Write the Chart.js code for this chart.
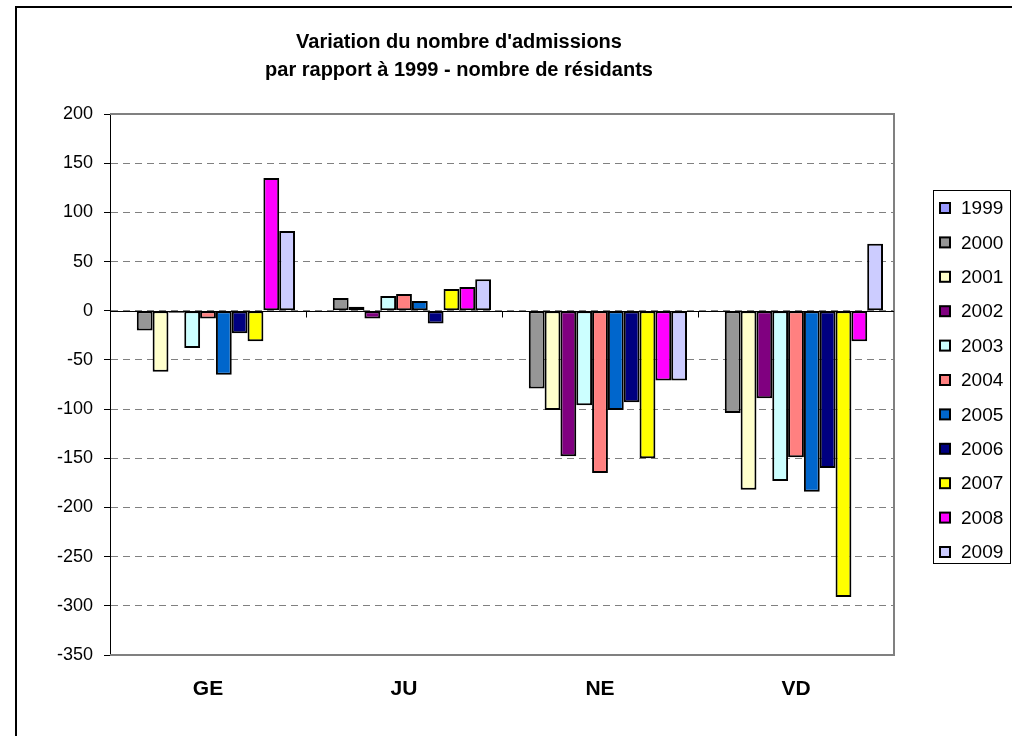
<!DOCTYPE html>
<html lang="fr">
<head>
    <meta charset="UTF-8">
    <title>Variation du nombre d'admissions</title>
    <script src="https://cdn.jsdelivr.net/npm/chart.js"></script>
    <style>
        body {
            margin: 0;
            background: #ffffff;
        }

        .chart-box {
            width: 1012px;
            height: 736px;
        }
    </style>
</head>
<body>
    <div class="chart-box">
        <canvas id="admChart"></canvas>
    </div>

    <script>
        // Data
        const regions = ['GE', 'JU', 'NE', 'VD'];
        const years = ['1999', '2000', '2001', '2002', '2003', '2004', '2005', '2006', '2007', '2008', '2009'];
        // one value per year, 1999 -> 2009
        const valuesGE = [0, -20, -62, -2, -38, -8, -65, -23, -31, 135, 81];
        const valuesJU = [0, 13, 4, -8, 15, 17, 10, -13, 22, 24, 32];
        const valuesNE = [0, -79, -101, -148, -96, -165, -101, -93, -150, -71, -71];
        const valuesVD = [0, -104, -182, -89, -173, -149, -184, -160, -291, -31, 68];
        const yTicks = [200, 150, 100, 50, 0, -50, -100, -150, -200, -250, -300, -350];

        const colors = ['#9999ff', '#969696', '#ffffcc', '#800080', '#ccffff', '#ff8080',
                        '#0066cc', '#000080', '#ffff00', '#ff00ff', '#ccccff'];
        const font = "'Liberation Sans', Arial, sans-serif";

        const byRegion = [valuesGE, valuesJU, valuesNE, valuesVD];
        const datasets = years.map((yr, i) => ({
            label: yr,
            data: byRegion.map(r => r[i]),
            backgroundColor: colors[i],
            borderColor: '#000000',
            borderWidth: 2,
            borderSkipped: false,
            categoryPercentage: 0.888,
            barPercentage: 1.0
        }));

        // frame, plot border, zero axis and legend box
        const excelLook = {
            id: 'excelLook',
            beforeDraw(chart) {
                const ctx = chart.ctx;
                ctx.save();
                ctx.strokeStyle = '#000000';
                ctx.lineWidth = 2;
                ctx.strokeRect(16, 7, 1100, 900);
                ctx.restore();
            },
            beforeDatasetsDraw(chart) {
                const {ctx, chartArea: a, scales: {x, y}} = chart;
                ctx.save();
                ctx.strokeStyle = '#808080';
                ctx.lineWidth = 2;
                ctx.beginPath();
                ctx.moveTo(a.left, a.top);
                ctx.lineTo(a.right, a.top);
                ctx.lineTo(a.right, a.bottom);
                ctx.lineTo(a.left, a.bottom);
                ctx.stroke();

                const y0 = Math.round(y.getPixelForValue(0)) + 0.5;
                ctx.strokeStyle = '#000000';
                ctx.lineWidth = 1;
                ctx.beginPath();
                ctx.moveTo(a.left, y0);
                ctx.lineTo(a.right, y0);
                const step = (x.right - x.left) / regions.length;
                for (let i = 1; i < regions.length; i++) {
                    const px = Math.round(x.left + i * step) + 0.5;
                    ctx.moveTo(px, y0);
                    ctx.lineTo(px, y0 + 6);
                }
                ctx.stroke();
                ctx.restore();
            },
            afterDraw(chart) {
                const ctx = chart.ctx;
                ctx.save();
                ctx.strokeStyle = '#000000';
                ctx.lineWidth = 1;
                ctx.strokeRect(933.5, 190.5, 77, 373);
                ctx.font = '19px ' + font;
                ctx.textBaseline = 'middle';
                years.forEach((yr, i) => {
                    const cy = 208 + i * 34.4;
                    ctx.fillStyle = colors[i];
                    ctx.fillRect(940, cy - 5, 10, 10);
                    ctx.lineWidth = 2;
                    ctx.strokeStyle = '#000000';
                    ctx.strokeRect(940, cy - 5, 10, 10);
                    ctx.fillStyle = '#000000';
                    ctx.fillText(yr, 961, cy + 1);
                });
                ctx.restore();
            }
        };

        new Chart(document.getElementById('admChart'), {
            type: 'bar',
            data: { labels: regions, datasets },
            plugins: [excelLook],
            options: {
                responsive: true,
                maintainAspectRatio: false,
                animation: false,
                layout: { padding: { left: 24, right: 118, top: 0, bottom: 0 } },
                plugins: {
                    legend: { display: false },
                    tooltip: { enabled: false },
                    title: {
                        display: true,
                        text: ["Variation du nombre d'admissions", 'par rapport à 1999 - nombre de résidants'],
                        color: '#000000',
                        font: { family: font, size: 20, weight: 'bold', lineHeight: 1.4 },
                        padding: { top: 28, bottom: 30 }
                    }
                },
                scales: {
                    x: {
                        grid: { display: false, drawTicks: false },
                        border: { display: false },
                        ticks: {
                            color: '#000000',
                            padding: 22,
                            font: { family: font, size: 21, weight: 'bold' }
                        },
                        afterFit: s => { s.height = 81; }
                    },
                    y: {
                        min: -350,
                        max: 200,
                        afterBuildTicks: s => { s.ticks = yTicks.map(v => ({ value: v })); },
                        grid: {
                            color: '#808080',
                            lineWidth: 1,
                            tickColor: '#000000',
                            tickLength: 6,
                            tickBorderDash: []
                        },
                        border: { display: true, color: '#000000', width: 1, dash: [7, 5] },
                        ticks: {
                            color: '#000000',
                            padding: 11,
                            font: { family: font, size: 18 }
                        },
                        afterFit: s => { s.width = 86; }
                    }
                }
            }
        });
    </script>
</body>
</html>
